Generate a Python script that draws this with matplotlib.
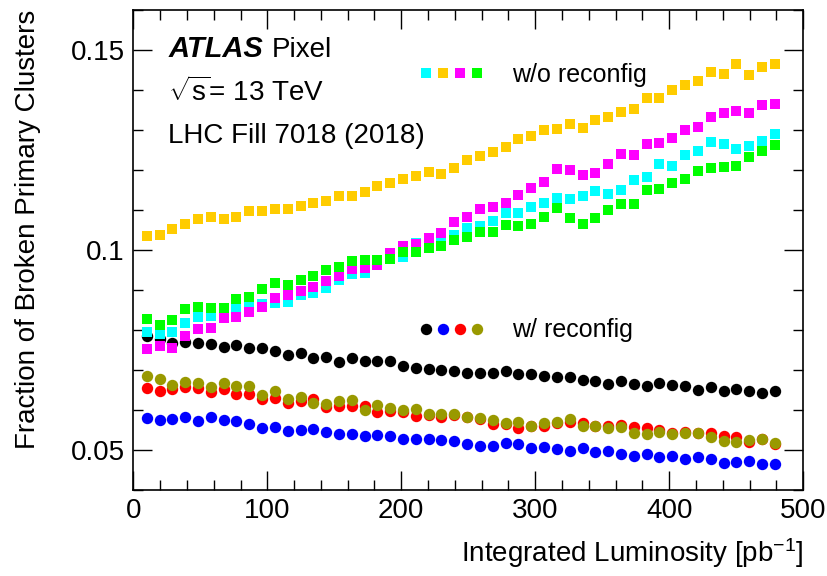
import matplotlib
matplotlib.use("Agg")
import matplotlib.pyplot as plt
from matplotlib.ticker import MultipleLocator, FuncFormatter

plt.rcParams['font.family'] = ['Liberation Sans', 'DejaVu Sans']
plt.rcParams['mathtext.fontset'] = 'custom'
plt.rcParams['mathtext.rm'] = 'Liberation Sans'
plt.rcParams['mathtext.it'] = 'Liberation Sans:italic'

# integrated luminosity bins [pb^-1]
lumi = [10.0, 19.6, 29.1, 38.7, 48.3, 57.8, 67.4, 77.0, 86.5, 96.1,
        105.7, 115.2, 124.8, 134.4, 143.9, 153.5, 163.1, 172.6, 182.2, 191.8,
        201.3, 210.9, 220.5, 230.0, 239.6, 249.2, 258.7, 268.3, 277.9, 287.4,
        297.0, 306.6, 316.1, 325.7, 335.3, 344.8, 354.4, 364.0, 373.5, 383.1,
        392.7, 402.2, 411.8, 421.4, 430.9, 440.5, 450.1, 459.6, 469.2, 478.8]

# w/o reconfig (squares)
cyan_sq = [0.0795, 0.0790, 0.0796, 0.0817, 0.0833, 0.0835, 0.0843, 0.0854, 0.0863, 0.0865,
           0.0867, 0.0871, 0.0888, 0.0893, 0.0904, 0.0925, 0.0939, 0.0942, 0.0968, 0.0980,
           0.0983, 0.1018, 0.1030, 0.1027, 0.1038, 0.1054, 0.1060, 0.1073, 0.1092, 0.1093,
           0.1108, 0.1117, 0.1131, 0.1128, 0.1135, 0.1148, 0.1139, 0.1150, 0.1175, 0.1183,
           0.1214, 0.1210, 0.1238, 0.1248, 0.1271, 0.1264, 0.1252, 0.1260, 0.1273, 0.1290]
yellow_sq = [0.1035, 0.1037, 0.1053, 0.1065, 0.1078, 0.1083, 0.1077, 0.1083, 0.1097, 0.1098,
             0.1102, 0.1103, 0.1111, 0.1118, 0.1122, 0.1135, 0.1135, 0.1146, 0.1159, 0.1168,
             0.1178, 0.1185, 0.1195, 0.1190, 0.1204, 0.1225, 0.1235, 0.1246, 0.1257, 0.1277,
             0.1286, 0.1300, 0.1303, 0.1315, 0.1305, 0.1325, 0.1333, 0.1346, 0.1352, 0.1381,
             0.1379, 0.1400, 0.1413, 0.1422, 0.1446, 0.1440, 0.1464, 0.1438, 0.1457, 0.1464]
magenta_sq = [0.0753, 0.0761, 0.0754, 0.0786, 0.0803, 0.0805, 0.0829, 0.0833, 0.0846, 0.0858,
              0.0879, 0.0888, 0.0898, 0.0908, 0.0923, 0.0935, 0.0953, 0.0954, 0.0963, 0.0992,
              0.1011, 0.1014, 0.1029, 0.1043, 0.1069, 0.1083, 0.1102, 0.1107, 0.1118, 0.1138,
              0.1154, 0.1171, 0.1202, 0.1199, 0.1188, 0.1192, 0.1214, 0.1240, 0.1238, 0.1264,
              0.1268, 0.1279, 0.1300, 0.1307, 0.1333, 0.1342, 0.1348, 0.1342, 0.1362, 0.1365]
green_sq = [0.0827, 0.0813, 0.0825, 0.0852, 0.0858, 0.0854, 0.0856, 0.0878, 0.0883, 0.0902,
            0.0917, 0.0913, 0.0925, 0.0934, 0.0950, 0.0958, 0.0973, 0.0974, 0.0975, 0.0978,
            0.0996, 0.0996, 0.1006, 0.1011, 0.1025, 0.1033, 0.1044, 0.1044, 0.1063, 0.1060,
            0.1064, 0.1083, 0.1106, 0.1079, 0.1066, 0.1079, 0.1100, 0.1115, 0.1115, 0.1150,
            0.1153, 0.1167, 0.1177, 0.1198, 0.1204, 0.1208, 0.1210, 0.1233, 0.1248, 0.1263]

# w/ reconfig (circles)
black_ci = [0.0786, 0.0778, 0.0768, 0.0771, 0.0767, 0.0764, 0.0757, 0.0763, 0.0756, 0.0754,
            0.0748, 0.0738, 0.0742, 0.0729, 0.0733, 0.0721, 0.0731, 0.0723, 0.0723, 0.0723,
            0.0710, 0.0706, 0.0703, 0.0700, 0.0698, 0.0692, 0.0692, 0.0693, 0.0698, 0.0689,
            0.0690, 0.0686, 0.0683, 0.0683, 0.0674, 0.0673, 0.0664, 0.0673, 0.0664, 0.0661,
            0.0667, 0.0663, 0.0661, 0.0650, 0.0658, 0.0648, 0.0653, 0.0648, 0.0643, 0.0648]
blue_ci = [0.0579, 0.0575, 0.0577, 0.0583, 0.0573, 0.0582, 0.0575, 0.0573, 0.0565, 0.0556,
           0.0558, 0.0548, 0.0550, 0.0553, 0.0545, 0.0540, 0.0541, 0.0536, 0.0538, 0.0535,
           0.0528, 0.0528, 0.0528, 0.0525, 0.0523, 0.0515, 0.0511, 0.0511, 0.0517, 0.0515,
           0.0506, 0.0508, 0.0502, 0.0498, 0.0506, 0.0496, 0.0498, 0.0489, 0.0486, 0.0489,
           0.0483, 0.0485, 0.0478, 0.0482, 0.0477, 0.0468, 0.0471, 0.0473, 0.0464, 0.0465]
red_ci = [0.0656, 0.0648, 0.0653, 0.0658, 0.0656, 0.0646, 0.0652, 0.0639, 0.0640, 0.0627,
          0.0631, 0.0618, 0.0623, 0.0628, 0.0607, 0.0610, 0.0610, 0.0610, 0.0594, 0.0598,
          0.0596, 0.0586, 0.0588, 0.0583, 0.0588, 0.0582, 0.0577, 0.0565, 0.0565, 0.0554,
          0.0560, 0.0560, 0.0567, 0.0571, 0.0567, 0.0561, 0.0560, 0.0563, 0.0557, 0.0554,
          0.0550, 0.0543, 0.0544, 0.0542, 0.0542, 0.0535, 0.0533, 0.0521, 0.0528, 0.0515]
olive_ci = [0.0685, 0.0677, 0.0663, 0.0671, 0.0668, 0.0658, 0.0668, 0.0660, 0.0660, 0.0638,
            0.0648, 0.0627, 0.0633, 0.0618, 0.0615, 0.0623, 0.0625, 0.0600, 0.0613, 0.0604,
            0.0600, 0.0602, 0.0589, 0.0589, 0.0590, 0.0583, 0.0581, 0.0575, 0.0568, 0.0569,
            0.0560, 0.0568, 0.0569, 0.0577, 0.0561, 0.0560, 0.0556, 0.0557, 0.0543, 0.0540,
            0.0544, 0.0540, 0.0543, 0.0542, 0.0533, 0.0523, 0.0521, 0.0525, 0.0527, 0.0518]

circle_series = [(black_ci, '#000000'), (blue_ci, '#0000ff'), (red_ci, '#ff0000'), (olive_ci, '#999900')]
square_series = [(cyan_sq, '#00ffff'), (yellow_sq, '#ffcc00'), (magenta_sq, '#ff00ff'), (green_sq, '#00ff00')]

fig = plt.figure(figsize=(8.27, 5.76), dpi=100)
ax = fig.add_axes([0.1612, 0.1493, 0.8101, 0.8333])

# circles first, squares drawn on top of them
for vals, col in circle_series:
    ax.plot(lumi, vals, 'o', color=col, ms=8.2, mew=0)
for vals, col in square_series:
    ax.plot(lumi, vals, 's', color=col, ms=7.4, mew=0)

ax.set_xlim(0, 500)
ax.set_ylim(0.04, 0.16)
ax.xaxis.set_major_locator(MultipleLocator(100))
ax.xaxis.set_minor_locator(MultipleLocator(20))
ax.yaxis.set_major_locator(MultipleLocator(0.05))
ax.yaxis.set_minor_locator(MultipleLocator(0.01))
ax.yaxis.set_major_formatter(FuncFormatter(lambda v, p: '%g' % round(v, 4)))
ax.tick_params(which='both', direction='in', top=True, right=True, labelsize=20, width=1.0, pad=6)
ax.tick_params(which='major', length=14)
ax.tick_params(which='minor', length=7)
for s in ax.spines.values():
    s.set_linewidth(1.2)

fig.text(0.9713, 0.025, r'Integrated Luminosity [pb$^{-1}$]', ha='right', va='baseline', fontsize=20)
fig.text(0.034, 0.9826, 'Fraction of Broken Primary Clusters', rotation=90, ha='center', va='top', fontsize=20)

# ATLAS label
ax.text(0.0522, 0.9015, 'ATLAS', transform=ax.transAxes, fontsize=21, fontweight='bold', fontstyle='italic')
ax.text(0.2066, 0.9015, 'Pixel', transform=ax.transAxes, fontsize=20)
ax.text(0.0522, 0.8104, r'$\sqrt{\mathrm{s}}$= 13 TeV', transform=ax.transAxes, fontsize=20)
ax.text(0.0522, 0.7235, 'LHC Fill 7018 (2018)', transform=ax.transAxes, fontsize=20)

# hand-made legends
leg_x = [0.4369, 0.4627, 0.4876, 0.5125]
for (vals, col), lx in zip(square_series, leg_x):
    ax.plot([lx], [0.868], 's', color=col, ms=7.4, mew=0, transform=ax.transAxes, clip_on=False)
for (vals, col), lx in zip(circle_series, leg_x):
    ax.plot([lx], [0.3354], 'o', color=col, ms=8.2, mew=0, transform=ax.transAxes, clip_on=False)
ax.text(0.5648, 0.8506, 'w/o reconfig', transform=ax.transAxes, fontsize=18)
ax.text(0.5648, 0.3194, 'w/ reconfig', transform=ax.transAxes, fontsize=18)

fig.savefig('out.png', dpi=100)
